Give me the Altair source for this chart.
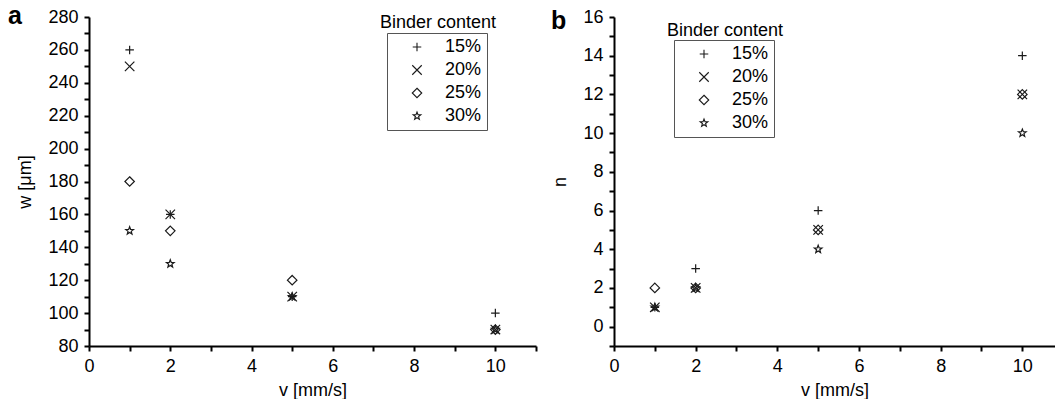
import altair as alt
import pandas as pd

# ---------------- data ----------------
speeds = [1, 2, 5, 10]
binders = ["15%", "20%", "25%", "30%"]

# panel a: w [um]
w_15 = [260, 160, 110, 100]
w_20 = [250, 160, 110, 90]
w_25 = [180, 150, 120, 90]
w_30 = [150, 130, 110, 90]

# panel b: n
n_15 = [1, 3, 6, 14]
n_20 = [1, 2, 5, 12]
n_25 = [2, 2, 5, 12]
n_30 = [1, 2, 4, 10]

# axis tick values (labels only on the even / major ones)
xa_ticks = [0, 1, 2, 3, 4, 5, 6, 7, 8, 9, 10, 11]
xb_ticks = [0, 1, 2, 3, 4, 5, 6, 7, 8, 9, 10]
ya_ticks = [80, 90, 100, 110, 120, 130, 140, 150, 160, 170, 180, 190, 200,
            210, 220, 230, 240, 250, 260, 270, 280]
yb_ticks = [-1, 0, 1, 2, 3, 4, 5, 6, 7, 8, 9, 10, 11, 12, 13, 14, 15, 16]

legend_title = ["Binder content"]

rows_a = []
for b, vals in zip(binders, [w_15, w_20, w_25, w_30]):
    for v, y in zip(speeds, vals):
        rows_a.append({"v": v, "w": y, "binder": b})
df_a = pd.DataFrame(rows_a)

rows_b = []
for b, vals in zip(binders, [n_15, n_20, n_25, n_30]):
    for v, y in zip(speeds, vals):
        rows_b.append({"v": v, "n": y, "binder": b})
df_b = pd.DataFrame(rows_b)

# ---------------- styles ----------------
FONT = "Liberation Sans"
FS = 18
PLUS = "M-0.9,0L0.9,0M0,-0.9L0,0.9"
XSYM = "M-1,-1L1,1M-1,1L1,-1"
DIAM = "M0,-1L1,0L0,1L-1,0Z"
STAR = ("M0,-0.85L0.21,-0.29L0.81,-0.26L0.34,0.11L0.5,0.69L0,0.36"
        "L-0.5,0.69L-0.34,0.11L-0.81,-0.26L-0.21,-0.29Z")
shape_scale = alt.Scale(domain=binders, range=[PLUS, XSYM, DIAM, STAR])

W_A = 447
W_B = 441
H = 329


def axis(values, major, title, label_pad, title_pad):
    return alt.Axis(
        values=values,
        labelExpr=f"datum.value % {major} == 0 ? datum.label : ''",
        grid=False, labelFlush=False, labelOverlap=False,
        ticks=True, tickSize=5, tickWidth=2, tickColor="black",
        domain=True, domainColor="black", domainWidth=2,
        labelPadding=label_pad, labelFont=FONT, labelFontSize=FS,
        labelColor="black",
        titleFont=FONT, titleFontSize=FS, titleColor="black",
        titleFontWeight="normal", title=title, titlePadding=title_pad,
    )


def legend(x, y):
    return alt.Legend(
        title=None,
        orient="none",
        legendX=x,
        legendY=y,
        strokeColor="#555555",
        padding=5,
        symbolOffset=16,
        labelOffset=19,
        rowPadding=5,
        symbolSize=90,
        symbolStrokeWidth=1.1,
        symbolStrokeColor="#1a1a1a",
        symbolFillColor="transparent",
        labelFontSize=FS,
        labelFont=FONT,
        labelColor="black",
    )


def text_layer(data_list, x, y, size, weight="normal", align="center"):
    return alt.Chart(pd.DataFrame({"t": data_list})).mark_text(
        font=FONT, fontSize=size, fontWeight=weight, align=align,
        baseline="alphabetic", color="black"
    ).encode(text="t:N", x=alt.value(x), y=alt.value(y))


def panel(df, yfield, xdom, ydom, xticks, yticks, ymajor, ytitle, leg_xy,
          title_xy, letter, letter_xy, width):
    xs = alt.Scale(domain=xdom, nice=False, zero=False)
    ys = alt.Scale(domain=ydom, nice=False, zero=False)
    pts = alt.Chart(df).mark_point(
        filled=False, size=90, strokeWidth=1.2, color="#1a1a1a", opacity=1
    ).encode(
        x=alt.X("v:Q", scale=xs, axis=axis(xticks, 2, "v [mm/s]", 6, 6)),
        y=alt.Y(f"{yfield}:Q", scale=ys, axis=axis(yticks, ymajor, ytitle, 6, 13)),
        shape=alt.Shape("binder:N", scale=shape_scale, legend=legend(*leg_xy)),
    )
    return alt.layer(
        pts,
        text_layer(legend_title, title_xy[0], title_xy[1], FS),
        text_layer([letter], letter_xy[0], letter_xy[1], 25, "bold", "left"),
    ).properties(width=width, height=H)


panel_a = panel(df_a, "w", [0, 11], [80, 280], xa_ticks, ya_ticks, 20,
                "w [μm]", (298, 16), (349, 11), "a", (-81, 7), W_A)
panel_b = panel(df_b, "n", [0, 10.8], [-1, 16], xb_ticks, yb_ticks, 2,
                "n", (60, 23), (111, 19), "b", (-63, 12), W_B)

chart = alt.hconcat(panel_a, panel_b, spacing=14).resolve_scale(
    shape="independent"
).properties(
    padding={"left": 8, "top": 4, "right": 0, "bottom": 0}
).configure_view(
    stroke=None
)

chart.save("out.html", embed_options={"renderer": "svg", "actions": False})
